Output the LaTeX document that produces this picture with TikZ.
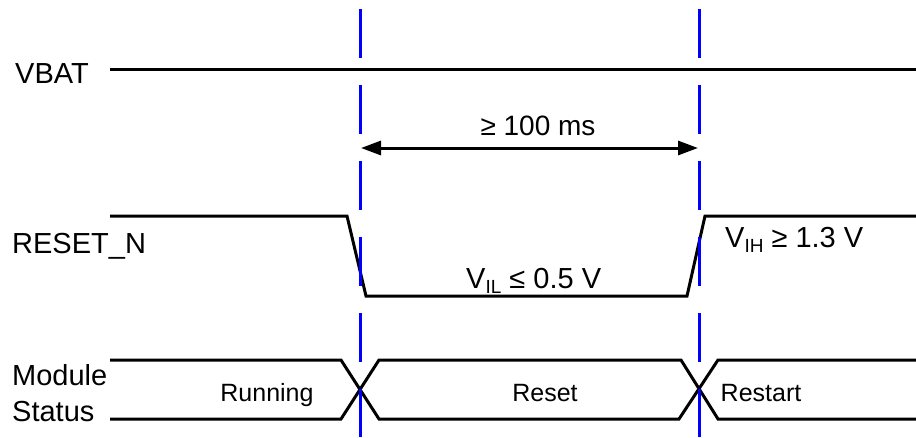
\documentclass[tikz,border=0pt]{standalone}
\usepackage{fontspec}
\setmainfont{Liberation Sans}
\usetikzlibrary{arrows.meta}
\definecolor{guideblue}{RGB}{0,0,255}
\begin{document}
\begin{tikzpicture}[x=1pt,y=-1pt,
  sig/.style={line width=3pt, black, line join=miter},
  guide/.style={line width=3pt, guideblue, dash pattern=on 49pt off 27pt},
  lbl/.style={font=\fontsize{29}{32}\selectfont, inner sep=0pt},
  txt/.style={font=\fontsize{25}{28}\selectfont, inner sep=0pt},
  dim/.style={line width=3pt, black, {Triangle[length=20pt,width=14pt]}-{Triangle[length=20pt,width=14pt]}}]
\useasboundingbox (0,0) rectangle (916,437);

% labels
\node[lbl, anchor=base west] (vbat) at (15,83) {VBAT};
\node[lbl, anchor=base west] (rst) at (12,253) {RESET\_N};
\node[lbl, anchor=base west] (mod) at (12,385) {Module};
\node[lbl, anchor=base west] (stat) at (12,421) {Status};

% VBAT
\draw[sig] (110,69) -- (916,69);

% RESET_N
\draw[sig] (110,216) -- (347,216) -- (366,296) -- (687,296) -- (705,216) -- (916,216);
\node[lbl, anchor=base west] (vil) at (466,288) {V\raisebox{-5pt}{\fontsize{19}{21}\selectfont IL} ≤ 0.5 V};
\node[lbl, anchor=base west] (vih) at (725,247) {V\raisebox{-5pt}{\fontsize{19}{21}\selectfont IH} ≥ 1.3 V};

% Module status
\draw[sig] (110,360) -- (341,360) -- (379,419) -- (679,419) -- (718,360) -- (916,360);
\draw[sig] (110,419) -- (341,419) -- (379,360) -- (681,360) -- (718,419) -- (916,419);
\node[txt, anchor=base] (run) at (267,401) {Running};
\node[txt, anchor=base] (reset) at (545,401) {Reset};
\node[txt, anchor=base] (restart) at (761,401) {Restart};

% guides
\coordinate (g1t) at (360,9);
\coordinate (g1b) at (360,437);
\coordinate (g2t) at (699,9);
\coordinate (g2b) at (699,437);
\draw[guide] (g1t) -- (g1b);
\draw[guide] (g2t) -- (g2b);

% dimension
\coordinate (a1) at (361,148);
\coordinate (a2) at (698,148);
\draw[dim] (a1) -- (a2);
\node[font=\fontsize{28}{30}\selectfont, inner sep=0pt, anchor=base] (dur) at (538,135) {≥ 100 ms};
\end{tikzpicture}
\end{document}
